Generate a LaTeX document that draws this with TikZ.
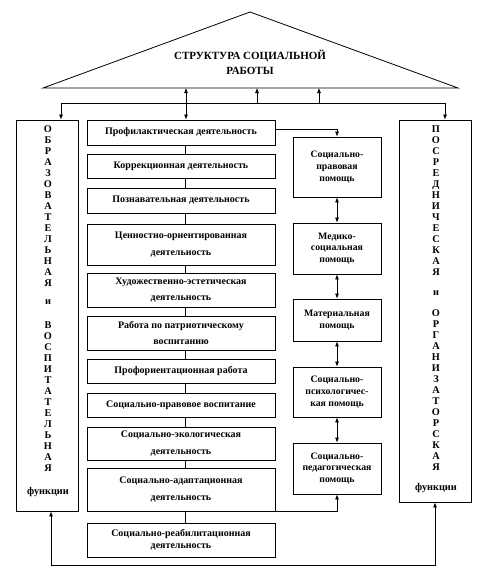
\documentclass[tikz,border=0pt]{standalone}
\usepackage{fontspec}
\setmainfont{Liberation Serif}
\usetikzlibrary{arrows.meta}

\tikzset{
  box/.style={draw, line width=0.8pt, minimum width=188pt, align=center, inner sep=2pt,
    font=\fontsize{10}{16.5}\selectfont\bfseries},
  helpbox/.style={draw, line width=0.8pt, minimum width=88pt, align=center, inner sep=2pt,
    font=\fontsize{9.8}{11.8}\selectfont\bfseries},
  sidebox/.style={draw, line width=0.8pt},
  letters/.style={align=center, inner sep=0pt, font=\fontsize{10.3}{11}\selectfont\bfseries},
  arr/.style={line width=0.7pt, -{Latex[length=5pt,width=4pt]}},
  darr/.style={line width=0.7pt, {Latex[length=5pt,width=4pt]}-{Latex[length=5pt,width=4pt]}},
}

\begin{document}
\begin{tikzpicture}[x=1pt, y=-1pt]
  \useasboundingbox (0,0) rectangle (484,579);

  % roof
  \draw[line width=0.8pt] (43,88) -- (250,12) -- (458,88) -- cycle;
  \node[align=center, font=\fontsize{11}{15}\selectfont\bfseries] (roof) at (250,62)
    {СТРУКТУРА СОЦИАЛЬНОЙ\\РАБОТЫ};

  % side functions
  \node[sidebox, minimum width=62pt, minimum height=391pt] (lf) at (47,315.5) {};
  \node[letters] (lw1) at (48,206.5) {О\\Б\\Р\\А\\З\\О\\В\\А\\Т\\Е\\Л\\Ь\\Н\\А\\Я};
  \node[letters] (lw2) at (48,302) {и};
  \node[letters] (lw3) at (48,396.5) {В\\О\\С\\П\\И\\Т\\А\\Т\\Е\\Л\\Ь\\Н\\А\\Я};
  \node[letters] (lw4) at (48,492) {функции};

  \node[sidebox, minimum width=72pt, minimum height=382pt] (rf) at (435,311) {};
  \node[letters] (rw1) at (436,201) {П\\О\\С\\Р\\Е\\Д\\Н\\И\\Ч\\Е\\С\\К\\А\\Я};
  \node[letters] (rw2) at (436,293) {и};
  \node[letters] (rw3) at (436,390.5) {О\\Р\\Г\\А\\Н\\И\\З\\А\\Т\\О\\Р\\С\\К\\А\\Я};
  \node[letters] (rw4) at (436,488) {функции};

  % kinds of activity
  \foreach \n/\y/\h/\t in {
      1/132.5/25/{Профилактическая деятельность},
      2/166/24/{Коррекционная деятельность},
      3/200.5/25/{Познавательная деятельность},
      4/244.5/41/{Ценностно-ориентированная\\деятельность},
      5/290/34/{Художественно-эстетическая\\деятельность},
      6/333/34/{Работа по патриотическому\\воспитанию},
      7/371/24/{Профориентационная работа},
      8/405/24/{Социально-правовое воспитание},
      9/443.5/33/{Социально-экологическая\\деятельность},
      10/489.5/43/{Социально-адаптационная\\деятельность}} {
    \node[box, minimum height=\h pt] (m\n) at (181,\y) {\t};
  }
  \node[box, minimum height=34pt, font=\fontsize{10}{12.5}\selectfont\bfseries] (m11) at (181,540)
    {Социально-реабилитационная\\деятельность};
  \foreach \i [evaluate=\i as \j using int(\i+1)] in {1,...,10} {
    \draw[line width=0.7pt] ([xshift=4pt]m\i.south) -- ([xshift=4pt]m\j.north);
  }

  % kinds of help
  \node[helpbox, minimum height=60pt] (pA) at (337,167) {Социально-\\правовая\\помощь};
  \node[helpbox, minimum height=51pt] (pB) at (337,248.5) {Медико-\\социальная\\помощь};
  \node[helpbox, minimum height=42pt] (pC) at (337,320) {Материальная\\помощь};
  \node[helpbox, minimum height=50pt] (pD) at (337,392) {Социально-\\психологичес-\\кая помощь};
  \node[helpbox, minimum height=51pt] (pE) at (337,468.5) {Социально-\\педагогическая\\помощь};
  \draw[darr] (pA) -- (pB);
  \draw[darr] (pB) -- (pC);
  \draw[darr] (pC) -- (pD);
  \draw[darr] (pD) -- (pE);

  % connectors
  \coordinate (busL) at (61,103);
  \coordinate (busR) at (445,103);
  \draw[line width=0.7pt] (busL) -- (busR);
  \draw[arr] (busL) -- (busL |- lf.north);
  \draw[arr] (busR) -- (busR |- rf.north);
  \draw[darr] (186,88) -- ([xshift=5pt]m1.north);
  \draw[arr] (257,103) -- (257,88);
  \draw[arr] (319,103) -- (319,88);
  \draw[arr] ([yshift=3pt]m1.east) -| (pA.north);
  \draw[arr] (m10.south east) -| (pE.south);
  \draw[darr] ([xshift=4pt]lf.south) -- ++(0,54) -| (rf.south);
\end{tikzpicture}
\end{document}
